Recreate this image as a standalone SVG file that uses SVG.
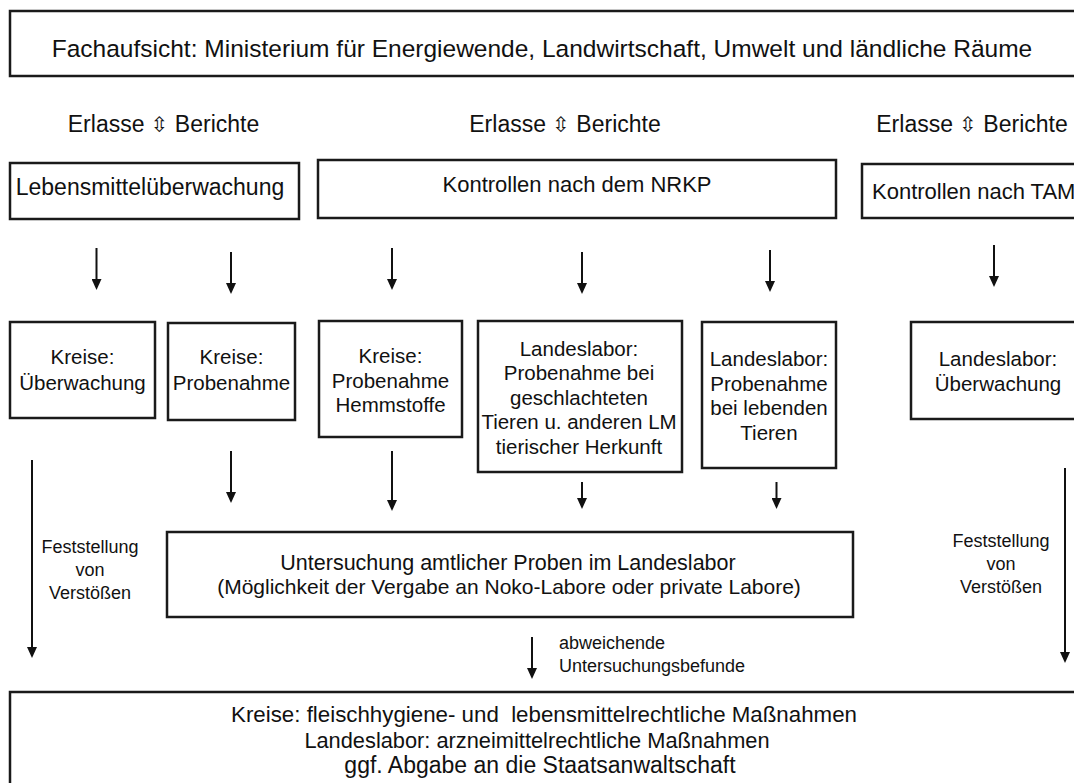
<svg xmlns="http://www.w3.org/2000/svg" width="1074" height="783" viewBox="0 0 1074 783">
<style>
.box{fill:#fff;stroke:#1a1a1a;stroke-width:2.5}
text{font-family:"Liberation Sans",Arial,"DejaVu Sans",sans-serif;fill:#111;text-anchor:middle}
.conn line{stroke:#111;stroke-width:2;marker-end:url(#ah)}
.arr{font-family:"DejaVu Sans",sans-serif}
</style>
<defs>
<marker id="ah" viewBox="0 0 11 10" markerWidth="11" markerHeight="10" refX="1" refY="5" orient="auto" markerUnits="userSpaceOnUse">
<path d="M0,0 L11,5 L0,10 z" fill="#111"/>
</marker>
</defs>
<rect width="1074" height="783" fill="#fff"/>

<g id="fachaufsicht">
<rect class="box" x="10" y="11" width="1080" height="65"/>
<text x="542" y="57" font-size="24.5">Fachaufsicht: Ministerium für Energiewende, Landwirtschaft, Umwelt und ländliche Räume</text>
</g>

<g id="labels-erlasse">
<text x="163.5" y="132" font-size="23">Erlasse <tspan class="arr" font-size="21">⇳</tspan> Berichte</text>
<text x="565" y="132" font-size="23">Erlasse <tspan class="arr" font-size="21">⇳</tspan> Berichte</text>
<text x="972" y="132" font-size="23">Erlasse <tspan class="arr" font-size="21">⇳</tspan> Berichte</text>
</g>

<g id="lebensmittel">
<rect class="box" x="10" y="163" width="289" height="56"/>
<text x="150" y="195" font-size="23">Lebensmittelüberwachung</text>
</g>
<g id="nrkp">
<rect class="box" x="318" y="160" width="518" height="58"/>
<text x="577" y="192" font-size="22">Kontrollen nach dem NRKP</text>
</g>
<g id="tam">
<rect class="box" x="862" y="164" width="230" height="54"/>
<text x="872" y="199" font-size="22" style="text-anchor:start">Kontrollen nach TAM</text>
</g>

<g id="kreise-ueberwachung">
<rect class="box" x="10" y="322" width="145" height="96"/>
<text x="82.5" y="364" font-size="20.5">Kreise:</text>
<text x="82.5" y="390" font-size="20.5">Überwachung</text>
</g>
<g id="kreise-probenahme">
<rect class="box" x="168" y="323" width="127" height="97"/>
<text x="231.5" y="364" font-size="20.5">Kreise:</text>
<text x="231.5" y="390" font-size="20.5">Probenahme</text>
</g>
<g id="kreise-hemmstoffe">
<rect class="box" x="319" y="321" width="143" height="116"/>
<text x="390.5" y="363" font-size="20.5">Kreise:</text>
<text x="390.5" y="388" font-size="20.5">Probenahme</text>
<text x="390.5" y="412" font-size="20.5">Hemmstoffe</text>
</g>
<g id="landeslabor-geschlachtet">
<rect class="box" x="478" y="321" width="204" height="151"/>
<text x="579" y="355.5" font-size="20.5">Landeslabor:</text>
<text x="579" y="380" font-size="20.5">Probenahme bei</text>
<text x="579" y="404.5" font-size="20.5">geschlachteten</text>
<text x="579" y="429" font-size="20.5">Tieren u. anderen LM</text>
<text x="579" y="453.5" font-size="20.5">tierischer Herkunft</text>
</g>
<g id="landeslabor-lebend">
<rect class="box" x="702" y="322" width="134" height="146"/>
<text x="769" y="366" font-size="20.5">Landeslabor:</text>
<text x="769" y="390.5" font-size="20.5">Probenahme</text>
<text x="769" y="415" font-size="20.5">bei lebenden</text>
<text x="769" y="439.5" font-size="20.5">Tieren</text>
</g>
<g id="landeslabor-ueberwachung">
<rect class="box" x="911" y="322" width="180" height="97"/>
<text x="998" y="366" font-size="20.5">Landeslabor:</text>
<text x="998" y="391" font-size="20.5">Überwachung</text>
</g>

<g id="untersuchung">
<rect class="box" x="167" y="532" width="686" height="85"/>
<text x="508" y="570" font-size="21.5">Untersuchung amtlicher Proben im Landeslabor</text>
<text x="509" y="594" font-size="21">(Möglichkeit der Vergabe an Noko-Labore oder private Labore)</text>
</g>

<g id="massnahmen">
<rect class="box" x="10" y="692" width="1080" height="120"/>
<text x="544" y="722" font-size="22.3" xml:space="preserve">Kreise: fleischhygiene- und  lebensmittelrechtliche Maßnahmen</text>
<text x="537" y="748" font-size="21.8">Landeslabor: arzneimittelrechtliche Maßnahmen</text>
<text x="540" y="773" font-size="23">ggf. Abgabe an die Staatsanwaltschaft</text>
</g>

<g class="conn" id="connectors">
<line x1="96.5" y1="248" x2="96.5" y2="280"/>
<line x1="231" y1="252" x2="231" y2="284"/>
<line x1="392" y1="248" x2="392" y2="280"/>
<line x1="582" y1="252" x2="582" y2="284"/>
<line x1="770" y1="250" x2="770" y2="282"/>
<line x1="994" y1="245" x2="994" y2="277"/>
<line x1="32" y1="460" x2="32" y2="648"/>
<line x1="231" y1="451" x2="231" y2="493"/>
<line x1="392" y1="451" x2="392" y2="501"/>
<line x1="582" y1="482" x2="582" y2="499"/>
<line x1="776.5" y1="482" x2="776.5" y2="499"/>
<line x1="1065" y1="468" x2="1065" y2="653"/>
<line x1="532" y1="637" x2="532" y2="669"/>
</g>

<g id="connector-labels">
<text x="90" y="553" font-size="18">Feststellung</text>
<text x="90" y="576" font-size="18">von</text>
<text x="90" y="599" font-size="18">Verstößen</text>
<text x="1001" y="547" font-size="18">Feststellung</text>
<text x="1001" y="570" font-size="18">von</text>
<text x="1001" y="593" font-size="18">Verstößen</text>
<text x="559" y="649" font-size="18" style="text-anchor:start">abweichende</text>
<text x="559" y="672" font-size="18" style="text-anchor:start">Untersuchungsbefunde</text>
</g>
</svg>
